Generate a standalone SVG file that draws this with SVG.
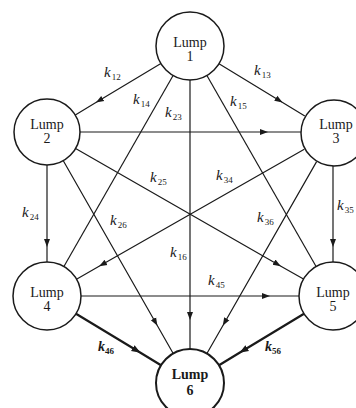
<svg xmlns="http://www.w3.org/2000/svg" width="356" height="408" viewBox="0 0 356 408">
<style>
.node circle{fill:#fff;stroke:#1a1a1a;stroke-width:1.5}
.node text{font-family:"Liberation Serif","Times New Roman",serif;font-size:14px;fill:#1a1a1a;text-anchor:middle}
.edge{fill:none;stroke:#1a1a1a;stroke-width:1.2}
.arr{marker-mid:url(#ah)}
.bold{stroke-width:2.2;marker-mid:url(#ahb)}
.lbl{font-family:"Liberation Serif","Times New Roman",serif;font-style:italic;font-size:15px;fill:#1a1a1a}
.lbl tspan.s{font-size:9px;font-style:normal}
.lblb{font-weight:bold;font-size:14px}
</style>
<defs>
<marker id="ah" viewBox="0 -4 9 8" refX="8" refY="0" markerWidth="9" markerHeight="8" markerUnits="userSpaceOnUse" orient="auto"><path d="M0,-3 L8,0 L0,3 z" fill="#1a1a1a"/></marker>
<marker id="ahb" viewBox="0 -5 10 10" refX="9" refY="0" markerWidth="10" markerHeight="10" markerUnits="userSpaceOnUse" orient="auto"><path d="M0,-3.5 L9,0 L0,3.5 z" fill="#1a1a1a"/></marker>
</defs>
<g id="connectors">
<path id="e12" class="edge arr" d="M160.9,63.5 L95.9,102.6 L75.3,115.0"/>
<path id="e13" class="edge arr" d="M219.0,63.7 L282.6,102.4 L304.8,115.9"/>
<path id="e23" class="edge arr" d="M80,132 L268,132 L301,132"/>
<path id="e24" class="edge arr" d="M47,165 L47,247 L47,262"/>
<path id="e34" class="edge arr" d="M304.3,149.3 L99.1,266.3 L76.5,279.2"/>
<path id="e25" class="edge arr" d="M75.6,148.4 L280.9,266.2 L303.5,279.1"/>
<path id="e45" class="edge arr" d="M81,296 L270,296 L299,296"/>
<path id="e35" class="edge arr" d="M333,166 L333,247 L333,262"/>
<path id="e14" class="edge" d="M173.1,75.5 L63.9,266.5"/>
<path id="e15" class="edge" d="M206.9,75.5 L316.1,266.5"/>
<path id="e16" class="edge arr" d="M190,80 L190,320 L190,349"/>
<path id="e26" class="edge arr" d="M63.3,160.7 L157.4,325.7 L173.2,353.5"/>
<path id="e36" class="edge arr" d="M316.6,161.6 L222.8,325.7 L206.9,353.5"/>
<path id="e46" class="edge bold" d="M76.0,313.7 L140.5,352.8 L161.0,365.3"/>
<path id="e56" class="edge bold" d="M304.0,313.7 L239.5,352.8 L219.0,365.3"/>
</g>
<g id="labels">
<text class="lbl" x="104" y="77">k<tspan class="s" dx="1" dy="3">12</tspan></text>
<text class="lbl" x="254" y="75">k<tspan class="s" dx="1" dy="3">13</tspan></text>
<text class="lbl" x="133" y="104">k<tspan class="s" dx="1" dy="3">14</tspan></text>
<text class="lbl" x="230" y="106">k<tspan class="s" dx="1" dy="3">15</tspan></text>
<text class="lbl" x="165" y="117">k<tspan class="s" dx="1" dy="3">23</tspan></text>
<text class="lbl" x="22" y="217">k<tspan class="s" dx="1" dy="3">24</tspan></text>
<text class="lbl" x="337" y="210">k<tspan class="s" dx="1" dy="3">35</tspan></text>
<text class="lbl" x="150" y="182">k<tspan class="s" dx="1" dy="3">25</tspan></text>
<text class="lbl" x="216" y="180">k<tspan class="s" dx="1" dy="3">34</tspan></text>
<text class="lbl" x="110" y="225">k<tspan class="s" dx="1" dy="3">26</tspan></text>
<text class="lbl" x="170" y="257">k<tspan class="s" dx="1" dy="3">16</tspan></text>
<text class="lbl" x="208" y="285">k<tspan class="s" dx="1" dy="3">45</tspan></text>
<text class="lbl" x="257" y="222">k<tspan class="s" dx="1" dy="3">36</tspan></text>
<text class="lbl lblb" x="98" y="351">k<tspan class="s" dx="0" dy="3">46</tspan></text>
<text class="lbl lblb" x="265" y="351">k<tspan class="s" dx="0" dy="3">56</tspan></text>
</g>
<g id="lump1" class="node"><circle cx="190" cy="46" r="34"/><text x="190" y="47">Lump</text><text x="190" y="61">1</text></g>
<g id="lump2" class="node"><circle cx="47" cy="132" r="33"/><text x="47" y="129">Lump</text><text x="47" y="143">2</text></g>
<g id="lump3" class="node"><circle cx="334" cy="133" r="33"/><text x="336" y="129">Lump</text><text x="336" y="143">3</text></g>
<g id="lump4" class="node"><circle cx="47" cy="296" r="34"/><text x="47" y="297">Lump</text><text x="47" y="311">4</text></g>
<g id="lump5" class="node"><circle cx="333" cy="296" r="34"/><text x="333" y="297">Lump</text><text x="333" y="311">5</text></g>
<g id="lump6" class="node"><circle cx="190" cy="383" r="34" style="stroke-width:2"/><text x="190" y="379" style="font-weight:bold">Lump</text><text x="190" y="395" style="font-weight:bold">6</text></g>
</svg>
